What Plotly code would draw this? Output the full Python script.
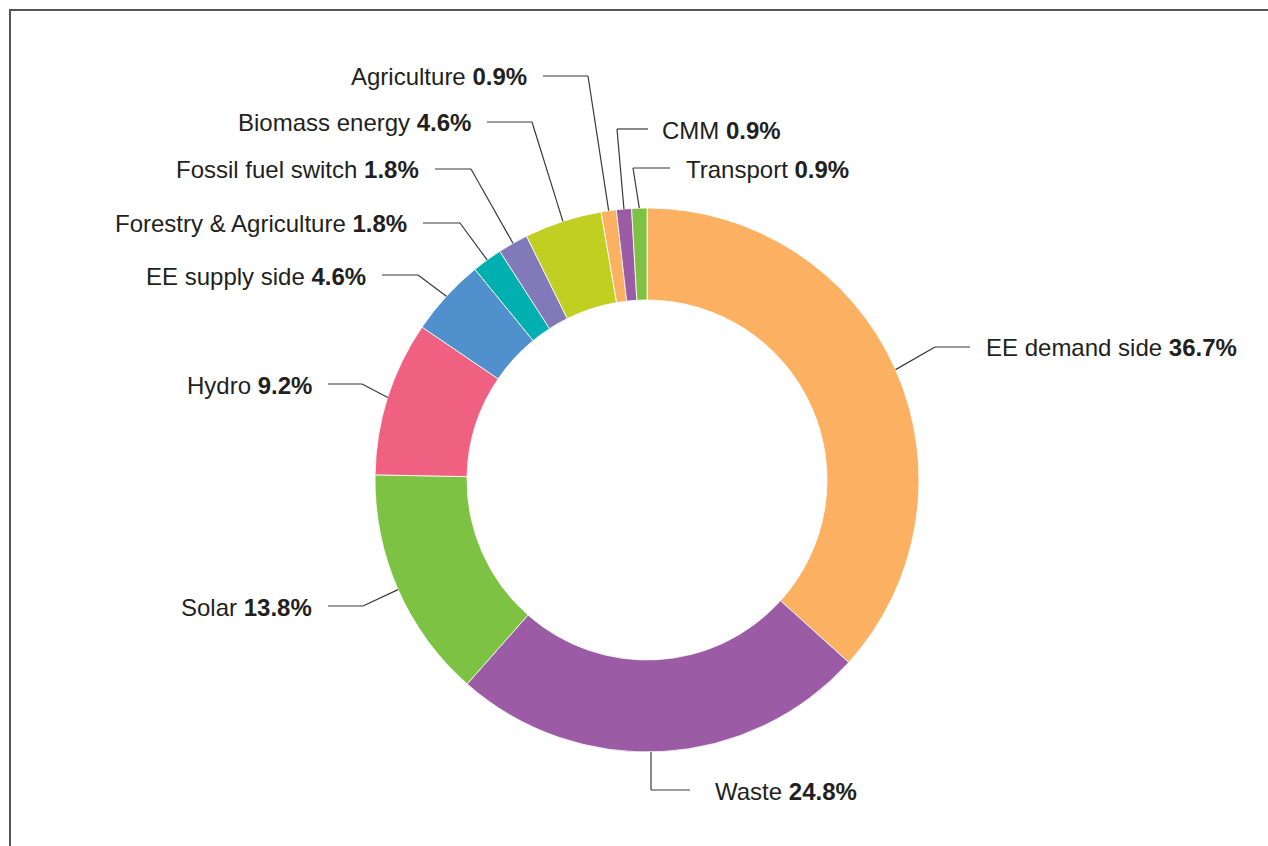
import math
import plotly.graph_objects as go

# Share of projects by type (%), clockwise from 12 o'clock
labels = ["EE demand side", "Waste", "Solar", "Hydro", "EE supply side",
          "Forestry & Agriculture", "Fossil fuel switch", "Biomass energy",
          "Agriculture", "CMM", "Transport"]
shares = [36.7, 24.8, 13.8, 9.2, 4.6, 1.8, 1.8, 4.6, 0.9, 0.9, 0.9]
colors = ["#FBB062", "#9B5CA5", "#7DC242", "#F06080", "#4F90CD",
          "#00B0B0", "#8179B8", "#C1CE22", "#FBB062", "#9B5CA5", "#7DC242"]

W, H = 1268, 846
CX, CY = 647, 480          # donut centre (px)
R_OUT, R_IN = 272, 180     # outer / inner radius (px)

# Callout layout per slice: elbow point (px), end of horizontal run (px), side.
# "drop": leader leaves the rim straight above the elbow instead of at mid-slice.
callouts = {
    "EE demand side":         dict(elbow=(935, 347), end=970, side="right"),
    "Waste":                  dict(elbow=(651, 790), end=690, side="right", drop=True, gap=23),
    "Solar":                  dict(elbow=(363, 606), end=328, side="left"),
    "Hydro":                  dict(elbow=(362, 384), end=328, side="left"),
    "EE supply side":         dict(elbow=(418, 275), end=382, side="left"),
    "Forestry & Agriculture": dict(elbow=(460, 223), end=423, side="left"),
    "Fossil fuel switch":     dict(elbow=(471, 169), end=435, side="left"),
    "Biomass energy":         dict(elbow=(532, 122), end=487, side="left"),
    "Agriculture":            dict(elbow=(588, 76), end=543, side="left"),
    "CMM":                    dict(elbow=(617, 129), end=648, side="right", gap=12),
    "Transport":              dict(elbow=(633, 168), end=670, side="right"),
}
TEXT_GAP = 14


def px(x):
    return x / W


def py(y):
    return 1 - y / H


fig = go.Figure(go.Pie(
    labels=labels,
    values=shares,
    marker=dict(colors=colors, line=dict(color="white", width=0.8)),
    hole=R_IN / R_OUT,
    sort=False,
    direction="clockwise",
    rotation=0,
    textinfo="none",
    hoverinfo="label+percent",
    showlegend=False,
    domain=dict(x=[px(CX - R_OUT), px(CX + R_OUT)],
                y=[py(CY + R_OUT), py(CY - R_OUT)]),
))

shapes = []
annotations = []
line_style = dict(color="#3a3a3a", width=1.2)
total = sum(shares)
cum = 0.0
for name, val in zip(labels, shares):
    mid = (cum + val / 2) / total * 2 * math.pi
    cum += val
    c = callouts[name]
    ex, ey = c["elbow"]
    if c.get("drop"):
        sx = ex
        sy = CY + math.copysign(math.sqrt(R_OUT ** 2 - (ex - CX) ** 2), ey - CY)
    else:
        sx = CX + R_OUT * math.sin(mid)
        sy = CY - R_OUT * math.cos(mid)
    shapes.append(dict(type="line", xref="paper", yref="paper",
                       x0=px(sx), y0=py(sy), x1=px(ex), y1=py(ey), line=line_style))
    shapes.append(dict(type="line", xref="paper", yref="paper",
                       x0=px(ex), y0=py(ey), x1=px(c["end"]), y1=py(ey), line=line_style))
    gap = c.get("gap", TEXT_GAP)
    if c["side"] == "right":
        tx, anchor = c["end"] + gap, "left"
    else:
        tx, anchor = c["end"] - gap, "right"
    annotations.append(dict(
        xref="paper", yref="paper", x=px(tx), y=py(ey + 1),
        xanchor=anchor, yanchor="middle", showarrow=False,
        text=f"{name} <b>{val:.1f}%</b>",
        font=dict(family="Liberation Sans, Arial, sans-serif", size=24, color="#231F20"),
    ))

# Frame around the figure panel
shapes.append(dict(type="rect", xref="paper", yref="paper",
                   x0=px(10), y0=-0.02, x1=1.02, y1=py(10),
                   line=dict(color="#555555", width=2), fillcolor="rgba(0,0,0,0)"))

fig.update_layout(
    width=W, height=H,
    margin=dict(l=0, r=0, t=0, b=0),
    paper_bgcolor="white",
    plot_bgcolor="white",
    shapes=shapes,
    annotations=annotations,
)

fig.write_html("out.html")
